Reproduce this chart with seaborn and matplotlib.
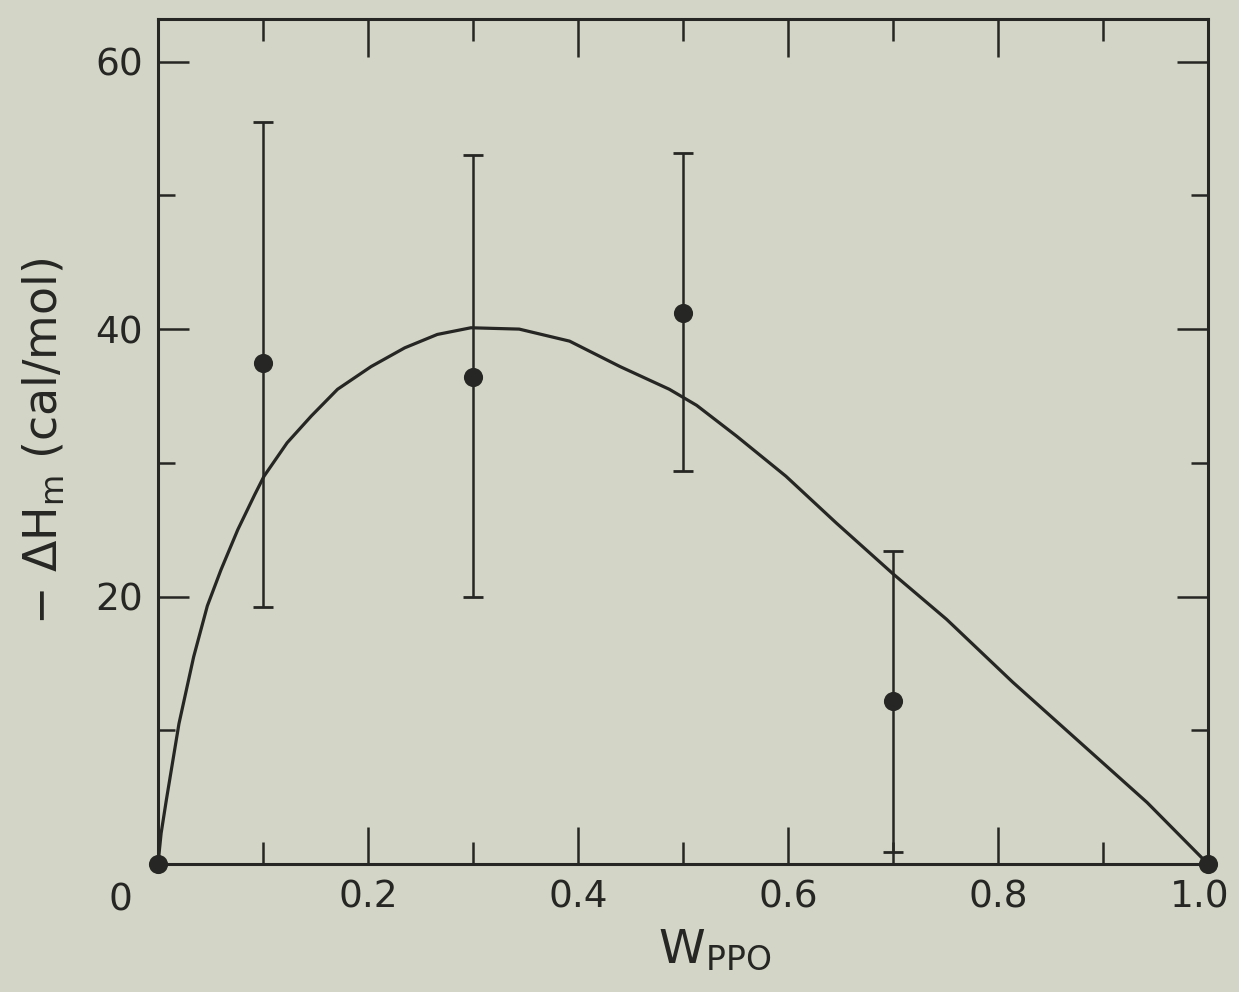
import matplotlib
matplotlib.use("Agg")
import matplotlib.pyplot as plt
import matplotlib.transforms as mtransforms
import seaborn as sns
import pandas as pd
from matplotlib.ticker import MultipleLocator

# ---- data ----
w_points = [0.0, 0.1, 0.3, 0.5, 0.7, 1.0]
dh_points = [0.0, 37.5, 36.4, 41.2, 12.2, 0.0]
err_low = [None, 19.2, 20.0, 29.4, 0.9, None]
err_high = [None, 55.5, 53.0, 53.2, 23.4, None]

curve_w = [0.0, 0.003, 0.008, 0.020, 0.034, 0.047, 0.060, 0.076, 0.092, 0.101,
           0.123, 0.146, 0.171, 0.203, 0.235, 0.266, 0.298, 0.344, 0.392, 0.440,
           0.487, 0.513, 0.551, 0.598, 0.646, 0.700, 0.751, 0.814, 0.878, 0.942, 1.0]
curve_dh = [0.0, 2.3, 4.8, 10.5, 15.5, 19.3, 22.0, 25.0, 27.6, 29.0,
            31.5, 33.5, 35.5, 37.2, 38.6, 39.6, 40.1, 40.0, 39.1, 37.2,
            35.5, 34.3, 32.0, 29.0, 25.5, 21.7, 18.3, 13.6, 9.1, 4.6, 0.0]

x_ticks = [0.0, 0.2, 0.4, 0.6, 0.8, 1.0]
x_ticklabels = ["", "0.2", "0.4", "0.6", "0.8", "1.0"]
y_ticks = [0, 20, 40, 60]
y_ticklabels = ["", "20", "40", "60"]

BG = "#d3d6c6"
INK = "#262624"

sns.set_theme(style="ticks")
plt.rcParams["font.family"] = ["DejaVu Sans"]
plt.rcParams["text.color"] = INK
plt.rcParams["axes.labelcolor"] = INK
plt.rcParams["xtick.color"] = INK
plt.rcParams["ytick.color"] = INK

fig = plt.figure(figsize=(12.39, 9.92), dpi=100, facecolor=BG)
ax = fig.add_axes([0.1275, 0.129, 0.8475, 0.852])
ax.set_facecolor(BG)

curve_df = pd.DataFrame({"w": curve_w, "dh": curve_dh})
pts_df = pd.DataFrame({"w": w_points, "dh": dh_points})

sns.lineplot(data=curve_df, x="w", y="dh", ax=ax, color=INK, linewidth=2.3,
             sort=False, estimator=None, zorder=3)

# error bars
for w, d, lo, hi in zip(w_points, dh_points, err_low, err_high):
    if lo is None:
        continue
    ax.errorbar([w], [d], yerr=[[d - lo], [hi - d]], fmt="none", ecolor=INK,
                elinewidth=1.8, capsize=7, capthick=2.0, zorder=2)

sns.scatterplot(data=pts_df, x="w", y="dh", ax=ax, color=INK, s=190,
                edgecolor=INK, linewidth=0, zorder=4, clip_on=False)

ax.set_xlim(0, 1.0)
ax.set_ylim(0, 63.2)

ax.set_xticks(x_ticks)
ax.set_xticklabels(x_ticklabels)
ax.set_yticks(y_ticks)
ax.set_yticklabels(y_ticklabels)
ax.xaxis.set_minor_locator(MultipleLocator(0.1))
ax.yaxis.set_minor_locator(MultipleLocator(10))

ax.tick_params(axis="x", which="major", direction="in", length=27, width=1.8,
               top=True, bottom=True, labelsize=27, pad=11)
ax.tick_params(axis="x", which="minor", direction="in", length=16, width=1.8,
               top=True, bottom=True)
ax.tick_params(axis="y", which="major", direction="in", length=22, width=1.8,
               left=True, right=True, labelsize=27, pad=11)
ax.tick_params(axis="y", which="minor", direction="in", length=12, width=1.8,
               left=True, right=True)

# nudge the "1.0" label slightly left so it stays inside the figure
last = ax.get_xticklabels()[-1]
last.set_transform(last.get_transform() +
                   mtransforms.ScaledTranslation(-6 / 72, 0, fig.dpi_scale_trans))

for sp in ax.spines.values():
    sp.set_visible(True)
    sp.set_color(INK)
    sp.set_linewidth(2.2)

ax.annotate("0", xy=(0, 0), xycoords="data", xytext=(-27, -13),
            textcoords="offset points", ha="center", va="top", fontsize=27,
            color=INK)

ax.set_xlabel(r"W$_{\mathrm{PPO}}$", fontsize=34, labelpad=4)
ax.xaxis.set_label_coords(0.53, -0.075)
ax.set_ylabel(r"$-$ $\Delta$H$_{\mathrm{m}}$ (cal/mol)", fontsize=33, labelpad=20)

fig.savefig("out.png", dpi=100, facecolor=BG)
